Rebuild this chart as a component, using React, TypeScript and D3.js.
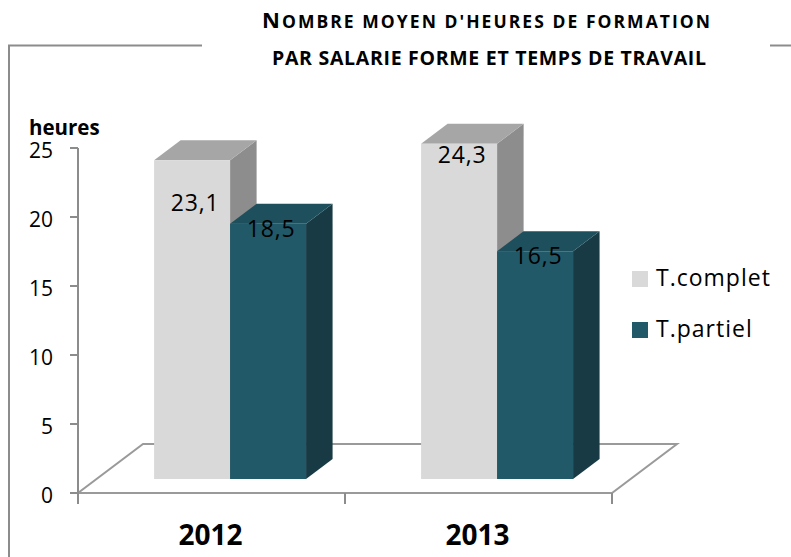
import React from "react";
import * as d3 from "d3";

const categories = ["2012", "2013"];
const seriesNames = ["T.complet", "T.partiel"];
const tComplet = [23.1, 24.3];
const tPartiel = [18.5, 16.5];
const yTicks = [0, 5, 10, 15, 20, 25];
const titleLine1Cap = "N";
const titleLine1Rest = "OMBRE MOYEN D'HEURES DE FORMATION";
const titleLine2 = "PAR SALARIE FORME ET TEMPS DE TRAVAIL";
const yAxisTitle = "heures";

const seriesValues = [tComplet, tPartiel];
const palettes = [
  { front: "#d9d9d9", top: "#a6a6a6", side: "#8d8d8d" },
  { front: "#215968", top: "#1e4f5c", side: "#173a44" },
];
// per-label vertical offsets from bar top (layout tweak)
const labelDy = [
  [51, 19],
  [13, 13],
];

const W = 791;
const H = 557;
const FONT = "'Open Sans', 'Liberation Sans', sans-serif";

export default function App() {
  const axisX = 78;
  const axisRight = 612;
  const floorFrontY = 493;
  const floorDepth = { dx: 65, dy: -49 };
  const barFrontT = 14 / 49;
  const barBackT = 34 / 49;

  const y = d3.scaleLinear().domain([0, 25]).range([floorFrontY, 148]);
  const x0 = d3.scaleBand<string>().domain(categories).range([axisX, axisRight]).padding(0);
  const x1 = d3
    .scaleBand<string>()
    .domain(seriesNames)
    .range([0, x0.bandwidth()])
    .paddingInner(0)
    .paddingOuter(0.757);

  const fOff = { dx: floorDepth.dx * barFrontT, dy: floorDepth.dy * barFrontT };
  const dOff = {
    dx: floorDepth.dx * (barBackT - barFrontT),
    dy: floorDepth.dy * (barBackT - barFrontT),
  };

  const floorPts: [number, number][] = [
    [axisX, floorFrontY],
    [axisRight, floorFrontY],
    [axisRight + floorDepth.dx, floorFrontY + floorDepth.dy],
    [axisX + floorDepth.dx, floorFrontY + floorDepth.dy],
  ];
  const line = d3.line();

  const bars: JSX.Element[] = [];
  const labels: JSX.Element[] = [];
  categories.forEach((cat, ci) => {
    seriesNames.forEach((s, si) => {
      const v = seriesValues[si][ci];
      const bx = (x0(cat) as number) + (x1(s) as number) + fOff.dx;
      const bw = x1.bandwidth();
      const base = floorFrontY + fOff.dy;
      const top = base - (y(0) - y(v));
      const p = palettes[si];
      const front = `M${bx},${top}H${bx + bw}V${base}H${bx}Z`;
      const topFace = `M${bx},${top}L${bx + dOff.dx},${top + dOff.dy}H${bx + bw + dOff.dx}L${bx + bw},${top}Z`;
      const side = `M${bx + bw},${top}L${bx + bw + dOff.dx},${top + dOff.dy}V${base + dOff.dy}L${bx + bw},${base}Z`;
      bars.push(
        <g key={`b-${cat}-${s}`}>
          <path d={side} fill={p.side} />
          <path d={topFace} fill={p.top} />
          <path d={front} fill={p.front} />
        </g>
      );
      labels.push(
        <text
          key={`l-${cat}-${s}`}
          x={bx + bw / 2 + 3}
          y={top + labelDy[si][ci]}
          textAnchor="middle"
          fontFamily={FONT}
          fontSize={23}
          letterSpacing={0.8}
          fill="#000"
        >
          {String(v).replace(".", ",")}
        </text>
      );
    });
  });

  const gray = "#8c8c8c";

  return (
    <svg
      width={W}
      height={H}
      viewBox={`0 0 ${W} ${H}`}
      style={{ position: "absolute", left: 0, top: 0, background: "#fff" }}
    >
      <rect x={0} y={0} width={W} height={H} fill="#fff" />
      {/* frame */}
      <path d={`M9,557V45.5H202`} fill="none" stroke={gray} strokeWidth={2} />
      <path d={`M770,45.5H791`} fill="none" stroke={gray} strokeWidth={2} />

      {/* title */}
      <text
        x={486}
        y={28}
        textAnchor="middle"
        fontFamily={FONT}
        fontWeight={700}
        fill="#000"
        textLength={448}
        lengthAdjust="spacing"
      >
        <tspan fontSize={22}>{titleLine1Cap}</tspan>
        <tspan fontSize={17.5}>{titleLine1Rest}</tspan>
      </text>
      <text
        x={489}
        y={65}
        textAnchor="middle"
        fontFamily={FONT}
        fontWeight={700}
        fontSize={19.5}
        fill="#000"
        textLength={434}
        lengthAdjust="spacing"
      >
        {titleLine2}
      </text>

      {/* floor */}
      <path d={line(floorPts) + "Z"} fill="none" stroke="#9a9a9a" strokeWidth={2} />

      {/* axis */}
      <line x1={axisX} x2={axisX} y1={y(25)} y2={floorFrontY + 11} stroke={gray} strokeWidth={2} />
      {yTicks.map((t) => (
        <g key={`t-${t}`}>
          <line x1={axisX - 8} x2={axisX} y1={y(t)} y2={y(t)} stroke={gray} strokeWidth={2} />
          <text
            x={53}
            y={y(t) + 10}
            textAnchor="end"
            fontFamily={FONT}
            fontSize={21}
            fill="#000"
          >
            {t}
          </text>
        </g>
      ))}
      {[...categories.map((c) => x0(c) as number), axisRight].map((xx, i) => (
        <line
          key={`ct-${i}`}
          x1={xx}
          x2={xx}
          y1={floorFrontY}
          y2={floorFrontY + 11}
          stroke={gray}
          strokeWidth={2}
        />
      ))}
      <text x={29} y={135} fontFamily={FONT} fontWeight={700} fontSize={20.5} fill="#000">
        {yAxisTitle}
      </text>

      {bars}
      {labels}

      {/* category labels */}
      {categories.map((c) => (
        <text
          key={`c-${c}`}
          x={(x0(c) as number) + x0.bandwidth() / 2 - 1}
          y={545}
          textAnchor="middle"
          fontFamily={FONT}
          fontWeight={700}
          fontSize={28}
          fill="#000"
        >
          {c}
        </text>
      ))}

      {/* legend */}
      {seriesNames.map((s, i) => (
        <g key={`lg-${s}`} transform={`translate(632, ${271 + i * 51})`}>
          <rect x={0} y={0} width={16} height={16} fill={palettes[i].front} />
          <text
            x={24}
            y={15}
            fontFamily={FONT}
            fontSize={23}
            letterSpacing={1}
            fill="#000"
          >
            {s}
          </text>
        </g>
      ))}
    </svg>
  );
}
